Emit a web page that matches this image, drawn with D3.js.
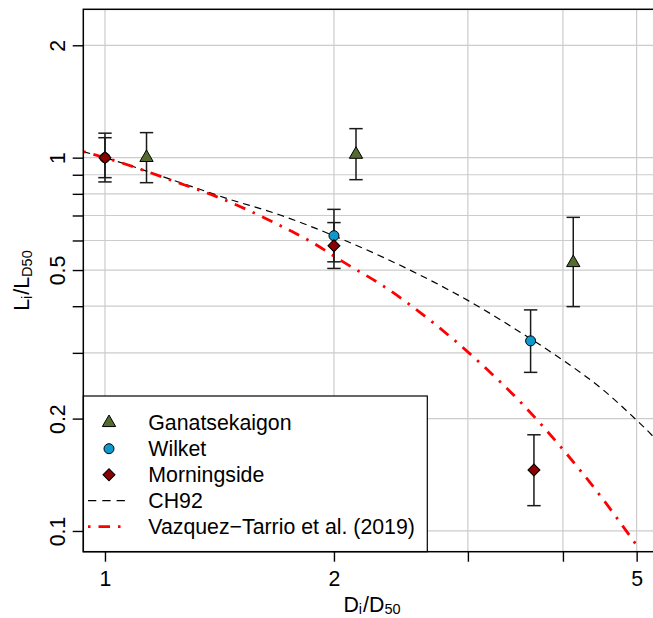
<!DOCTYPE html>
<html>
<head>
<meta charset="utf-8">
<script src="https://cdn.jsdelivr.net/npm/d3@7"></script>
<style>
  body { margin: 0; background: #fff; }
  text { font-family: "Liberation Sans", Arial, Helvetica, sans-serif; }
</style>
</head>
<body>
<div id="chart"></div>
<script>
// data (x = Di/D50, y = Li/LD50)
const ganX = [1.134, 2.138, 4.127];
const ganY = [1.0, 1.02, 0.523];
const ganLo = [0.857, 0.873, 0.399];
const ganHi = [1.167, 1.196, 0.692];

const wilX = [1, 2, 3.627];
const wilY = [1.0, 0.618, 0.323];
const wilLo = [0.861, 0.526, 0.266];
const wilHi = [1.163, 0.727, 0.391];

const morX = [1, 2, 3.664];
const morY = [1.0, 0.581, 0.1457];
const morLo = [0.884, 0.505, 0.1169];
const morHi = [1.131, 0.67, 0.181];

// CH92 curve
const ch92X = [0.9365, 1, 1.23, 1.445, 1.699, 2.037, 2.517, 3.003, 3.62, 3.998, 4.52, 5.0, 5.23, 5.35];
const ch92Y = [1.038, 1.0, 0.87, 0.778, 0.702, 0.608, 0.50, 0.414, 0.328, 0.287, 0.2385, 0.198, 0.181, 0.172];

// Vazquez-Tarrio et al. (2019) curve
const vtX = [0.9365, 1, 1.23, 1.456, 1.716, 1.86, 2.037, 2.346, 2.716, 3.112, 3.54, 3.998, 4.483, 4.985];
const vtY = [1.038, 1.0, 0.866, 0.762, 0.651, 0.598, 0.532, 0.447, 0.358, 0.282, 0.2185, 0.1655, 0.124, 0.0923];

const xTicks = [1, 2, 3, 4, 5];
const xLabels = ["1", "2", "", "", "5"];
const yTicks = [0.1, 0.2, 0.3, 0.4, 0.5, 0.6, 0.7, 0.8, 0.9, 1, 2];
const yLabels = ["0.1", "0.2", "", "", "0.5", "", "", "", "", "1", "2"];

const legendNames = ["Ganatsekaigon", "Wilket", "Morningside", "CH92", "Vazquez\u2212Tarrio et al. (2019)"];

// dimensions
const width = 653, height = 618;
const plot = {left: 83.3, right: 659, top: 9.3, bottom: 551.7};
const fontSize = 21.3, subSize = 14.5;

const svg = d3.select("#chart").append("svg")
    .attr("width", width).attr("height", height);

const x = d3.scaleLog().domain([0.9365, 5.35]).range([plot.left, plot.right]);
const y = d3.scaleLog().domain([0.088, 2.497]).range([plot.bottom, plot.top]);

svg.append("clipPath").attr("id", "clip")
    .append("rect")
    .attr("x", plot.left).attr("y", plot.top)
    .attr("width", plot.right - plot.left).attr("height", plot.bottom - plot.top);

// grid
const grid = svg.append("g").attr("stroke", "#cccccc").attr("stroke-width", 1.2);
grid.selectAll(".vx").data(xTicks).enter().append("line")
    .attr("x1", d => x(d)).attr("x2", d => x(d))
    .attr("y1", plot.top).attr("y2", plot.bottom);
grid.selectAll(".hy").data(yTicks).enter().append("line")
    .attr("y1", d => y(d)).attr("y2", d => y(d))
    .attr("x1", plot.left).attr("x2", plot.right);

// curves
const line = d3.line().x(d => x(d[0])).y(d => y(d[1])).curve(d3.curveMonotoneX);
const curves = svg.append("g").attr("clip-path", "url(#clip)");
curves.append("path")
    .attr("d", line(ch92X.map((v, i) => [v, ch92Y[i]])))
    .attr("fill", "none").attr("stroke", "#000").attr("stroke-width", 1.2)
    .attr("stroke-dasharray", "7,5");
curves.append("path")
    .attr("d", line(vtX.map((v, i) => [v, vtY[i]])))
    .attr("fill", "none").attr("stroke", "#ff0000").attr("stroke-width", 2.8)
    .attr("stroke-dasharray", "2.5,8,11.5,8");

// series definitions
const series = [
    {xs: ganX, ys: ganY, lo: ganLo, hi: ganHi, fill: "#556B2F", sym: d3.symbol(d3.symbolTriangle, 77), rot: 0},
    {xs: wilX, ys: wilY, lo: wilLo, hi: wilHi, fill: "#0E98CE", sym: d3.symbol(d3.symbolCircle, 78.5), rot: 0},
    {xs: morX, ys: morY, lo: morLo, hi: morHi, fill: "#8B0000", sym: d3.symbol(d3.symbolSquare, 72), rot: 45}
];

// error bars
series.forEach(s => {
    const g = svg.append("g").attr("stroke", "#1a1a1a").attr("stroke-width", 1.5);
    s.xs.forEach((v, i) => {
        const cx = x(v);
        g.append("line").attr("x1", cx).attr("x2", cx).attr("y1", y(s.lo[i])).attr("y2", y(s.hi[i]));
        g.append("line").attr("x1", cx - 6.7).attr("x2", cx + 6.7).attr("y1", y(s.lo[i])).attr("y2", y(s.lo[i]));
        g.append("line").attr("x1", cx - 6.7).attr("x2", cx + 6.7).attr("y1", y(s.hi[i])).attr("y2", y(s.hi[i]));
    });
});

// points
series.forEach(s => {
    svg.append("g").selectAll("path")
        .data(s.xs.map((v, i) => [v, s.ys[i]]))
        .enter().append("path")
        .attr("d", s.sym())
        .attr("transform", d => "translate(" + x(d[0]) + "," + y(d[1]) + ") rotate(" + s.rot + ")")
        .attr("fill", s.fill).attr("stroke", "#000").attr("stroke-width", 1);
});

// legend
const legend = svg.append("g").attr("id", "legend");
legend.append("rect")
    .attr("x", plot.left).attr("y", 396)
    .attr("width", 427.3 - plot.left).attr("height", plot.bottom - 396)
    .attr("fill", "#fff").attr("stroke", "#000").attr("stroke-width", 1.2);
legendNames.forEach((name, i) => {
    const cy = 422.7 + i * 26;
    if (i < 3) {
        legend.append("path")
            .attr("d", series[i].sym())
            .attr("transform", "translate(109," + cy + ") rotate(" + series[i].rot + ")")
            .attr("fill", series[i].fill).attr("stroke", "#000").attr("stroke-width", 1);
    } else if (i == 3) {
        legend.append("line").attr("x1", 88).attr("x2", 125).attr("y1", cy).attr("y2", cy)
            .attr("stroke", "#000").attr("stroke-width", 1.2).attr("stroke-dasharray", "8.3,6");
    } else {
        legend.append("line").attr("x1", 88).attr("x2", 125).attr("y1", cy).attr("y2", cy)
            .attr("stroke", "#ff0000").attr("stroke-width", 2.8).attr("stroke-dasharray", "2.5,8,11.5,8");
    }
    legend.append("text")
        .attr("x", 148.3).attr("y", cy + 7.6)
        .attr("font-size", fontSize)
        .text(name);
});

// box
svg.append("rect")
    .attr("x", plot.left).attr("y", plot.top)
    .attr("width", plot.right - plot.left).attr("height", plot.bottom - plot.top)
    .attr("fill", "none").attr("stroke", "#000").attr("stroke-width", 1.5);

// axes
const xAxis = svg.append("g")
    .attr("transform", "translate(0," + plot.bottom + ")")
    .call(d3.axisBottom(x).tickValues(xTicks).tickSize(10).tickFormat((d, i) => xLabels[i]));
xAxis.select(".domain").remove();
xAxis.selectAll("line").attr("stroke-width", 1.4);
xAxis.selectAll("text")
    .attr("font-size", fontSize).attr("font-family", null)
    .attr("dy", null).attr("y", 34.3);

const yAxis = svg.append("g")
    .attr("transform", "translate(" + plot.left + ",0)")
    .call(d3.axisLeft(y).tickValues(yTicks).tickSize(10.6).tickFormat((d, i) => yLabels[i]));
yAxis.select(".domain").remove();
yAxis.selectAll("line").attr("stroke-width", 1.4);
yAxis.selectAll("text")
    .attr("font-size", fontSize).attr("font-family", null)
    .attr("transform", "rotate(-90)")
    .attr("x", 0).attr("y", -18).attr("dy", null)
    .style("text-anchor", "middle");

// axis titles
const xt = svg.append("text")
    .attr("x", 372).attr("y", 611.5)
    .attr("text-anchor", "middle").attr("font-size", fontSize);
xt.append("tspan").text("D");
xt.append("tspan").attr("font-size", subSize).attr("dy", 2.5).text("i");
xt.append("tspan").attr("dy", -2.5).attr("dx", 1).text("/");
xt.append("tspan").text("D");
xt.append("tspan").attr("font-size", subSize).attr("dy", 2.5).text("50");

const yt = svg.append("text")
    .attr("transform", "translate(29,280.5) rotate(-90)")
    .attr("text-anchor", "middle").attr("font-size", fontSize);
yt.append("tspan").text("L");
yt.append("tspan").attr("font-size", subSize).attr("dy", 3).text("i");
yt.append("tspan").attr("dy", -3).attr("dx", 1).text("/");
yt.append("tspan").text("L");
yt.append("tspan").attr("font-size", subSize).attr("dy", 3).text("D50");
</script>
</body>
</html>
